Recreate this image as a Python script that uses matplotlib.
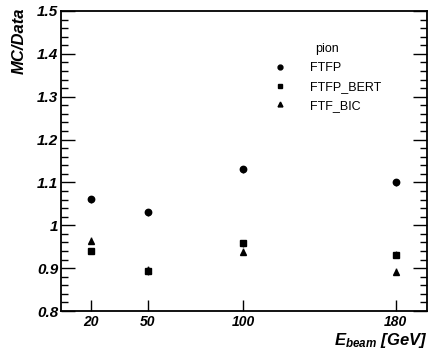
import numpy as np
import matplotlib
matplotlib.use("Agg")
import matplotlib.pyplot as plt
from matplotlib.lines import Line2D
from matplotlib.ticker import MultipleLocator, FixedLocator

plt.rcParams['font.family'] = ['Liberation Sans', 'DejaVu Sans']
plt.rcParams['mathtext.fontset'] = 'custom'
plt.rcParams['mathtext.it'] = 'Liberation Sans:italic:bold'
plt.rcParams['mathtext.rm'] = 'Liberation Sans:italic:bold'
plt.rcParams['mathtext.bf'] = 'Liberation Sans:italic:bold'

# beam energies (GeV)
energies = [20, 50, 100, 180]

# MC/Data ratios
ftfp = [1.061, 1.030, 1.131, 1.100]
ftfp_bert = [0.941, 0.893, 0.958, 0.931]
ftf_bic = [0.964, 0.896, 0.938, 0.892]

ftfp_err = [0.008, 0.009, 0.008, 0.008]
ftfp_bert_err = [0.007, 0.009, 0.008, 0.008]
ftf_bic_err = [0.008, 0.009, 0.008, 0.008]

fig = plt.figure(figsize=(4.28, 3.5), dpi=100)
ax = fig.add_axes([0.1425, 0.1114, 0.855, 0.8572])

series = [
    ('FTFP', ftfp, ftfp_err, 'o', 4.6),
    ('FTFP_BERT', ftfp_bert, ftfp_bert_err, 's', 4.3),
    ('FTF_BIC', ftf_bic, ftf_bic_err, '^', 4.3),
]
handles = []
for name, vals, errs, mk, ms in series:
    ax.errorbar(energies, vals, yerr=errs, fmt=mk, color='black',
                ms=ms, elinewidth=1, ecolor='#333333', capsize=0)
    handles.append(Line2D([], [], ls='none', marker=mk, color='black',
                          ms=3.5, label=name))

ax.set_xlim(4.3, 196.3)
ax.set_ylim(0.8, 1.5)

ax.xaxis.set_major_locator(FixedLocator(energies))
ax.set_xticklabels([str(e) for e in energies], fontsize=10, fontweight='bold', style='italic')
ax.yaxis.set_minor_locator(MultipleLocator(0.02))
ax.set_yticks([0.8, 0.9, 1.0, 1.1, 1.2, 1.3, 1.4, 1.5])
ax.set_yticklabels(['0.8', '0.9', '1', '1.1', '1.2', '1.3', '1.4', '1.5'],
                   fontsize=11, fontweight='bold', style='italic')

ax.tick_params(axis='x', which='major', direction='in', length=8, width=1,
               top=False, bottom=True, pad=3)
ax.tick_params(axis='y', which='major', direction='in', length=10, width=1,
               left=True, right=True, pad=2)
ax.tick_params(axis='y', which='minor', direction='in', length=5, width=1,
               left=True, right=True)
for s in ax.spines.values():
    s.set_linewidth(1.3)

ax.set_xlabel(r'$E_{beam}$ [GeV]', fontsize=12, fontweight='bold', style='italic',
              ha='right')
ax.xaxis.set_label_coords(1.0, -0.066)
ax.set_ylabel('MC/Data', fontsize=12, fontweight='bold', style='italic',
              ha='right', y=1.0)
ax.yaxis.set_label_coords(-0.095, 1.01)

leg = ax.legend(handles=handles, title='pion', frameon=False, fontsize=9,
                title_fontsize=9, loc='upper left', bbox_to_anchor=(0.55, 0.93),
                handletextpad=1.9, labelspacing=0.55, handlelength=1.0,
                alignment='center')

fig.savefig('out.png', dpi=100)
